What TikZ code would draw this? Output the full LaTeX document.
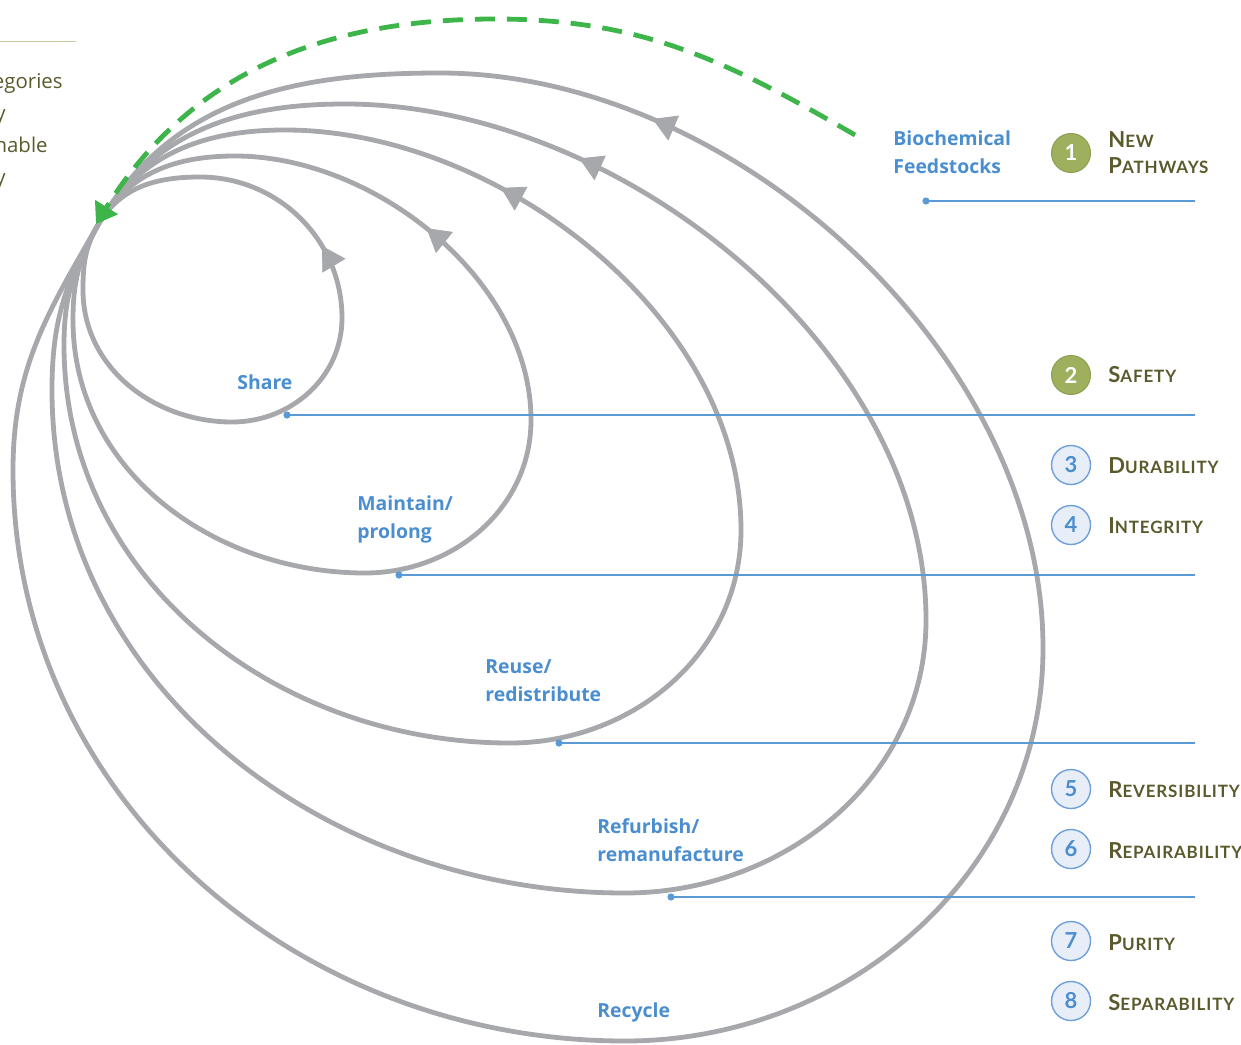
\documentclass[tikz,border=0pt]{standalone}
\usepackage{fontspec}
\setmainfont{Open Sans}
\newfontfamily\labfont{Open Sans}
\newfontfamily\capsfont{Lato}[LetterSpace=5]
\newfontfamily\numfont{Lato}
\usetikzlibrary{arrows.meta,decorations.markings}
\definecolor{loopgray}{RGB}{167,168,172}
\definecolor{arrowgreen}{RGB}{61,181,74}
\definecolor{labelblue}{RGB}{74,142,208}
\definecolor{leaderblue}{RGB}{91,155,213}
\definecolor{olive}{RGB}{90,90,45}
\definecolor{oliveline}{RGB}{200,200,160}
\definecolor{circgreen}{RGB}{158,176,94}
\definecolor{circgreenline}{RGB}{140,160,80}
\definecolor{circblue}{RGB}{232,238,248}
\definecolor{circblueline}{RGB}{110,160,220}
\newcommand{\scap}[2]{{\fontsize{11}{13}\selectfont #1}{\fontsize{8.5}{13}\selectfont #2}}
\tikzset{
  cyclepath/.style={draw=loopgray, line width=2.4pt},
  arrowmark/.style={decorate, decoration={markings, mark=at position #1 with {\arrow{Triangle[length=11.5pt,width=13.5pt,color=loopgray]}}}},
  greenpath/.style={draw=arrowgreen, line width=2.4pt, dash pattern=on 10pt off 6pt, -{Triangle[length=10pt,width=13pt]}},
  leader/.style={draw=leaderblue, line width=0.7pt},
  leaderdot/.style={circle, fill=leaderblue, inner sep=0pt, minimum size=3.6pt},
  bluelab/.style={text=labelblue, font=\labfont\bfseries\fontsize{9.7}{14}\selectfont, align=left, inner sep=0pt},
  olivetext/.style={text=olive, font=\labfont\fontsize{10.2}{16}\selectfont, inner sep=0pt},
  capslab/.style={text=olive, font=\capsfont\bfseries\fontsize{11}{13}\selectfont, align=left, inner sep=0pt},
  greencirc/.style={circle, fill=circgreen, draw=circgreenline, line width=0.5pt, minimum size=19.5pt, inner sep=0pt, text=white, font=\numfont\bfseries\fontsize{11}{13}\selectfont},
  bluecirc/.style={circle, fill=circblue, draw=circblueline, line width=0.7pt, minimum size=19.5pt, inner sep=0pt, text=labelblue, font=\numfont\bfseries\fontsize{11}{13}\selectfont},
  rt/.style={out=90,in=0,looseness=0.9},
}
\begin{document}
\begin{tikzpicture}[x=0.5pt,y=0.5pt]
\useasboundingbox (0,0) rectangle (1241,-1044);
% hub
\coordinate (hub) at (98,-225);
% loop 1 (share)
\coordinate (l1a) at (83,-290);
\coordinate (l1b) at (232,-422);
\coordinate (l1c) at (342,-318);
\coordinate (l1d) at (200,-177);
\draw[cyclepath] (hub) to[out=240,in=90] (l1a) to[out=270,in=180] (l1b) to[out=0,in=270] (l1c) to[out=90,in=0] (l1d) to[out=180,in=60] (hub);
\path[arrowmark=0.34] (l1c) to[out=90,in=0] (l1d);
% loop 2 (maintain)
\coordinate (l2a) at (73,-320);
\coordinate (l2b) at (365,-573);
\coordinate (l2c) at (531,-420);
\coordinate (l2d) at (235,-156);
\draw[cyclepath] (hub) to[out=240,in=90] (l2a) to[out=270,in=180] (l2b) to[out=0,in=270] (l2c) to[rt] (l2d) to[out=180,in=60] (hub);
\path[arrowmark=0.52] (l2c) to[rt] (l2d);
% loop 3 (reuse)
\coordinate (l3a) at (64,-345);
\coordinate (l3b) at (510,-743);
\coordinate (l3c) at (741,-530);
\coordinate (l3d) at (285,-130);
\draw[cyclepath] (hub) to[out=240,in=90] (l3a) to[out=270,in=180] (l3b) to[out=0,in=270] (l3c) to[rt] (l3d) to[out=180,in=60] (hub);
\path[arrowmark=0.66] (l3c) to[rt] (l3d);
% loop 4 (refurbish)
\coordinate (l4a) at (52,-390);
\coordinate (l4b) at (625,-893);
\coordinate (l4c) at (926,-620);
\coordinate (l4d) at (345,-104);
\draw[cyclepath] (hub) to[out=240,in=90] (l4a) to[out=270,in=180] (l4b) to[out=0,in=270] (l4c) to[rt] (l4d) to[out=180,in=60] (hub);
\path[arrowmark=0.715] (l4c) to[rt] (l4d);
% loop 5 (recycle)
\coordinate (l5a) at (13,-470);
\coordinate (l5b) at (625,-1041);
\coordinate (l5c) at (1043,-648);
\coordinate (l5d) at (440,-73);
\draw[cyclepath] (hub) to[out=240,in=90] (l5a) to[out=270,in=180] (l5b) to[out=0,in=270] (l5c) to[rt] (l5d) to[out=180,in=60] (hub);
\path[arrowmark=0.76] (l5c) to[rt] (l5d);
% green dashed arrow
\coordinate (gstart) at (855,-135);
\coordinate (gtop) at (495,-19);
\coordinate (gend) at (96,-224);
\draw[greenpath] (gstart) to[out=150,in=0] (gtop) to[out=180,in=58] (gend);
% leader lines
\node[leaderdot] (d0) at (926,-201) {};
\coordinate (e0) at (1195,-201);
\node[leaderdot] (d1) at (287,-415) {};
\coordinate (e1) at (1195,-415);
\node[leaderdot] (d2) at (399,-575) {};
\coordinate (e2) at (1195,-575);
\node[leaderdot] (d3) at (559,-743) {};
\coordinate (e3) at (1195,-743);
\node[leaderdot] (d4) at (671,-897) {};
\coordinate (e4) at (1195,-897);
\draw[leader] (d0.center) -- (e0);
\draw[leader] (d1.center) -- (e1);
\draw[leader] (d2.center) -- (e2);
\draw[leader] (d3.center) -- (e3);
\draw[leader] (d4.center) -- (e4);
% blue labels (base anchor = last line)
\node[bluelab, anchor=base west] (bio) at (893,-173) {Biochemical\\Feedstocks};
\node[bluelab, anchor=base west] (share) at (237,-389) {Share};
\node[bluelab, anchor=base west] (maint) at (357,-538) {Maintain/\\prolong};
\node[bluelab, anchor=base west] (reuse) at (485,-701) {Reuse/\\redistribute};
\node[bluelab, anchor=base west] (refurb) at (597,-861) {Refurbish/\\remanufacture};
\node[bluelab, anchor=base west] (recyc) at (597,-1017) {Recycle};
% left cut text
\draw[oliveline, line width=0.5pt] (0,-41) coordinate (tl0) -- (76,-41) coordinate (tl1);
\node[olivetext, anchor=base east] (lt1) at (63,-88) {egories};
\node[olivetext, anchor=base east] (lt2) at (6,-120) {y};
\node[olivetext, anchor=base east] (lt3) at (48,-152) {nable};
\node[olivetext, anchor=base east] (lt4) at (6,-184) {y};
% number circles
\node[greencirc] (c1) at (1071,-153) {1};
\node[greencirc] (c2) at (1071,-375) {2};
\node[bluecirc] (c3) at (1071,-465) {3};
\node[bluecirc] (c4) at (1071,-525) {4};
\node[bluecirc] (c5) at (1071,-789) {5};
\node[bluecirc] (c6) at (1071,-849) {6};
\node[bluecirc] (c7) at (1071,-941) {7};
\node[bluecirc] (c8) at (1071,-1001) {8};
% caps labels
\node[capslab, anchor=base west] (t1) at (1108,-173) {\scap{N}{EW}\\\scap{P}{ATHWAYS}};
\node[capslab, anchor=base west] (t2) at (1108,-382) {\scap{S}{AFETY}};
\node[capslab, anchor=base west] (t3) at (1108,-473) {\scap{D}{URABILITY}};
\node[capslab, anchor=base west] (t4) at (1108,-533) {\scap{I}{NTEGRITY}};
\node[capslab, anchor=base west] (t5) at (1108,-797) {\scap{R}{EVERSIBILITY}};
\node[capslab, anchor=base west] (t6) at (1108,-858) {\scap{R}{EPAIRABILITY}};
\node[capslab, anchor=base west] (t7) at (1108,-950) {\scap{P}{URITY}};
\node[capslab, anchor=base west] (t8) at (1108,-1010) {\scap{S}{EPARABILITY}};
\end{tikzpicture}
\end{document}
